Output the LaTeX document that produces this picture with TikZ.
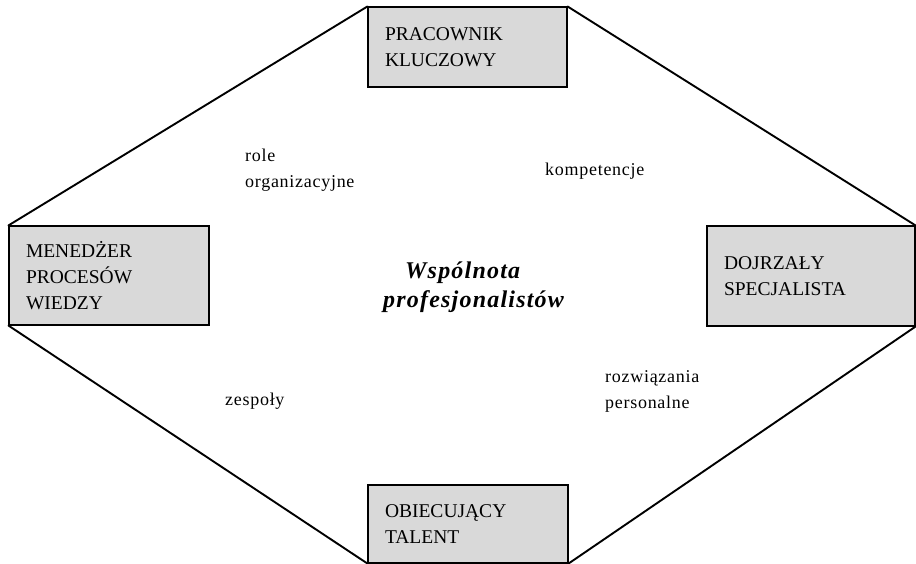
\documentclass[tikz,border=0pt]{standalone}
\usepackage{fontspec}
\setmainfont{Liberation Serif}
\definecolor{boxgray}{HTML}{D9D9D9}
\begin{document}
\begin{tikzpicture}[x=1pt,y=-1pt,
  box/.style={draw=black, line width=1.1pt, fill=boxgray, align=left,
    inner xsep=17pt, inner ysep=0pt, font=\fontsize{19.5}{26}\selectfont},
  hexline/.style={line width=1.9pt, line cap=round},
  lbl/.style={align=left, inner sep=0pt, anchor=north west,
    font=\fontsize{18}{26}\selectfont\addfontfeature{LetterSpace=4}},
  titletext/.style={align=left, inner sep=0pt, anchor=north west,
    font=\fontsize{24}{29}\selectfont\bfseries\itshape\addfontfeature{LetterSpace=5}}]
\useasboundingbox (0,0) rectangle (916,564);
% boxes
\node[box, text width=165pt, minimum height=80pt] (T) at (467.5,47) {PRACOWNIK\\KLUCZOWY};
\node[box, text width=166pt, minimum height=99pt] (L) at (109,275.5) {MENEDŻER\\PROCESÓW\\WIEDZY};
\node[box, text width=174pt, minimum height=100pt] (R) at (811,276) {DOJRZAŁY\\SPECJALISTA};
\node[box, text width=166pt, minimum height=78pt] (B) at (468,524) {OBIECUJĄCY\\TALENT};
% hexagon sides
\draw[hexline] (L.north west) -- (T.north west);
\draw[hexline] (T.north east) -- (R.north east);
\draw[hexline] (L.south west) -- (B.south west);
\draw[hexline] (B.south east) -- (R.south east);
% labels
\node[lbl] (role) at (245,149) {role\\organizacyjne};
\node[lbl] (komp) at (545,163) {kompetencje};
\node[lbl] (zesp) at (225,393) {zespoły};
\node[lbl] (rozw) at (605,370) {rozwiązania\\personalne};
\node[titletext] (title) at (383,262) {\hspace*{22pt}Wspólnota\\profesjonalistów};
\end{tikzpicture}
\end{document}
